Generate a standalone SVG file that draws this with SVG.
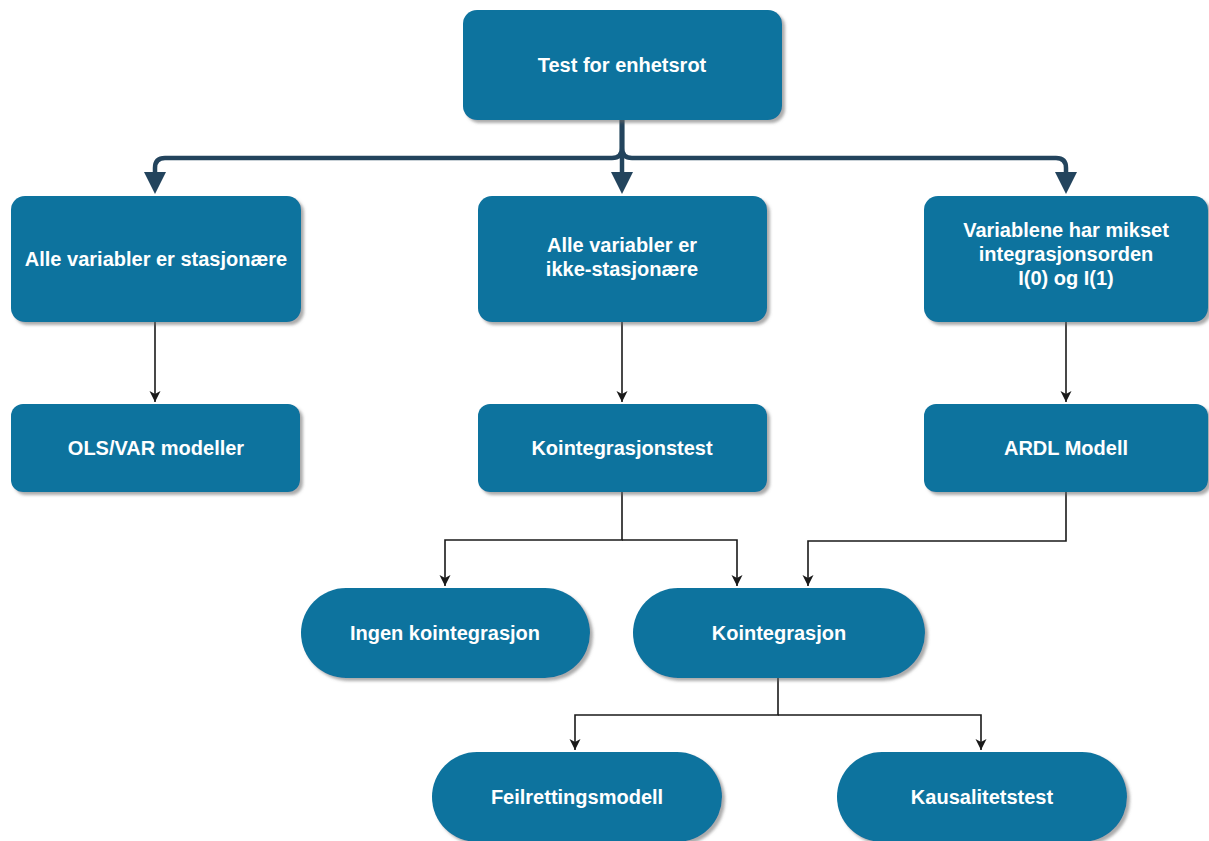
<svg xmlns="http://www.w3.org/2000/svg" width="1209" height="841" viewBox="0 0 1209 841">
<style>
.n{fill:#10739E;filter:url(#sh)}
.t{font-family:"Liberation Sans",Arial,sans-serif;font-weight:bold;font-size:20px;fill:#ffffff;text-anchor:middle}
.thick{fill:none;stroke:#23445D;stroke-width:4.5}
.head{fill:#23445D}
.thin{fill:none;stroke:#1a1a1a;stroke-width:1.6}
</style>
<defs>
<filter id="sh" x="-10%" y="-10%" width="125%" height="130%">
<feDropShadow dx="3" dy="3" stdDeviation="1.5" flood-color="#666" flood-opacity="0.55"/>
</filter>
<marker id="sm" markerUnits="userSpaceOnUse" markerWidth="12" markerHeight="12" refX="6" refY="11" viewBox="0 0 12 12">
<path d="M0.5,0 L6,3 L11.5,0 L6,11 Z" fill="#1a1a1a"/>
</marker>
</defs>
<rect width="1209" height="841" fill="#ffffff"/>
<g id="connectors">
<path class="thick" d="M622,120 V148 Q622,158 612,158 H165 Q155,158 155,168 V172"/>
<path class="thick" d="M622,120 V148 Q622,158 632,158 H1056 Q1066,158 1066,168 V172"/>
<path class="thick" d="M622,120 V172"/>
<path class="head" d="M144,172 L166,172 L155,194 Z"/>
<path class="head" d="M611,172 L633,172 L622,194 Z"/>
<path class="head" d="M1055,172 L1077,172 L1066,194 Z"/>
<path class="thin" d="M155,322 V402" marker-end="url(#sm)"/>
<path class="thin" d="M622,322 V402" marker-end="url(#sm)"/>
<path class="thin" d="M1066,322 V402" marker-end="url(#sm)"/>
<path class="thin" d="M622,492 V540 H445 V586" marker-end="url(#sm)"/>
<path class="thin" d="M622,540 H737 V586" marker-end="url(#sm)"/>
<path class="thin" d="M1066,492 V541 H808 V586" marker-end="url(#sm)"/>
<path class="thin" d="M778,678 V715 H575 V750" marker-end="url(#sm)"/>
<path class="thin" d="M778,715 H981 V750" marker-end="url(#sm)"/>
</g>
<g id="n-test">
<rect class="n" x="463" y="10" width="319" height="110" rx="14"/>
<text class="t" x="622" y="72">Test for enhetsrot</text>
</g>
<g id="n-stasjonaere">
<rect class="n" x="11" y="196" width="290" height="126" rx="14"/>
<text class="t" x="156" y="266">Alle variabler er stasjonære</text>
</g>
<g id="n-ikke">
<rect class="n" x="478" y="196" width="289" height="126" rx="14"/>
<text class="t" x="622" y="252">Alle variabler er</text>
<text class="t" x="622" y="276">ikke-stasjonære</text>
</g>
<g id="n-mikset">
<rect class="n" x="924" y="196" width="284" height="126" rx="14"/>
<text class="t" x="1066" y="237">Variablene har mikset</text>
<text class="t" x="1066" y="261">integrasjonsorden</text>
<text class="t" x="1066" y="285">I(0) og I(1)</text>
</g>
<g id="n-ols">
<rect class="n" x="11" y="404" width="289" height="88" rx="12"/>
<text class="t" x="156" y="455">OLS/VAR modeller</text>
</g>
<g id="n-kointtest">
<rect class="n" x="478" y="404" width="289" height="88" rx="12"/>
<text class="t" x="622" y="455">Kointegrasjonstest</text>
</g>
<g id="n-ardl">
<rect class="n" x="924" y="404" width="284" height="88" rx="12"/>
<text class="t" x="1066" y="455">ARDL Modell</text>
</g>
<g id="n-ingen">
<rect class="n" x="301" y="588" width="289" height="90" rx="45"/>
<text class="t" x="445" y="640">Ingen kointegrasjon</text>
</g>
<g id="n-koint">
<rect class="n" x="633" y="588" width="292" height="90" rx="45"/>
<text class="t" x="779" y="640">Kointegrasjon</text>
</g>
<g id="n-feil">
<rect class="n" x="432" y="752" width="290" height="90" rx="45"/>
<text class="t" x="577" y="804">Feilrettingsmodell</text>
</g>
<g id="n-kausal">
<rect class="n" x="837" y="752" width="290" height="90" rx="45"/>
<text class="t" x="982" y="804">Kausalitetstest</text>
</g>
</svg>
